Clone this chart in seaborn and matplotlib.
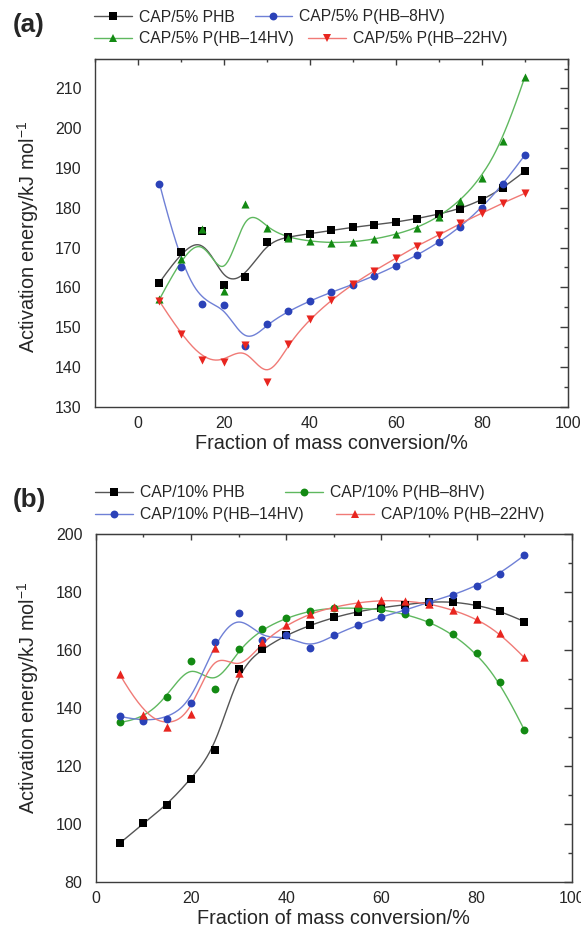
import numpy as np
import pandas as pd
import seaborn as sns
import matplotlib.pyplot as plt
from matplotlib.lines import Line2D
from matplotlib.ticker import MultipleLocator

# fraction of mass conversion (%)
conv = [5, 10, 15, 20, 25, 30, 35, 40, 45, 50, 55, 60, 65, 70, 75, 80, 85, 90]

# (a) blends with 5 % polyester, activation energy kJ/mol
a_phb = [161.2, 168.8, 174.1, 160.7, 162.7, 171.3, 172.7, 173.5, 174.3, 175.1,
         175.7, 176.4, 177.3, 178.4, 179.8, 181.9, 184.9, 189.2]
a_8hv = [186.1, 165.2, 155.8, 155.6, 145.3, 150.7, 154.0, 156.6, 158.8, 160.7,
         162.9, 165.4, 168.1, 171.3, 175.2, 180.0, 185.9, 193.2]
a_14hv = [157.0, 167.1, 174.6, 159.2, 181.0, 174.8, 172.5, 171.6, 171.2, 171.4,
          172.1, 173.3, 175.0, 177.7, 181.8, 187.6, 196.9, 212.8]
a_22hv = [156.5, 148.2, 141.7, 141.3, 145.5, 136.1, 145.8, 152.0, 156.8, 160.8,
          164.2, 167.3, 170.5, 173.1, 176.1, 178.6, 181.3, 183.6]

# (b) blends with 10 % polyester
b_phb = [93.2, 100.1, 106.4, 115.6, 125.3, 153.4, 160.3, 165.1, 168.5, 171.2,
         173.2, 174.6, 175.6, 176.6, 176.6, 175.5, 173.5, 169.8]
b_8hv = [135.0, 136.0, 143.6, 156.3, 146.5, 160.3, 167.2, 171.0, 173.5, 174.5,
         174.4, 174.0, 172.3, 169.8, 165.4, 158.9, 149.0, 132.5]
b_14hv = [137.1, 135.3, 136.2, 141.7, 162.6, 172.9, 163.5, 165.1, 160.5, 165.1,
          168.5, 171.4, 173.7, 176.5, 178.9, 182.1, 186.3, 192.6]
b_22hv = [151.7, 137.6, 133.3, 137.9, 160.6, 152.2, 162.8, 168.5, 172.5, 174.8,
          176.3, 177.1, 176.9, 176.0, 173.8, 170.8, 165.8, 157.4]

labels_a = ["CAP/5% PHB", "CAP/5% P(HB\u20138HV)", "CAP/5% P(HB\u201314HV)", "CAP/5% P(HB\u201322HV)"]
labels_b = ["CAP/10% PHB", "CAP/10% P(HB\u20138HV)", "CAP/10% P(HB\u201314HV)", "CAP/10% P(HB\u201322HV)"]

# (marker colour, line colour)
BLACK = ("#000000", "#555555")
BLUE = ("#2b42b8", "#6f80d6")
GREEN = ("#138a13", "#5fb85f")
RED = ("#e8251f", "#f07a76")

style_a = [(BLACK, "s", 29), (BLUE, "o", 32), (GREEN, "^", 34), (RED, "v", 34)]
style_b = [(BLACK, "s", 30), (GREEN, "o", 32), (BLUE, "o", 32), (RED, "^", 36)]


def bspline(px, py, num=400):
    # clamped cubic B-spline with the data points as control points
    P = np.column_stack([px, py]).astype(float)
    n, k = len(P), 3
    knots = np.concatenate([[0] * k, np.arange(n - k + 1), [n - k] * k]).astype(float)
    t = np.linspace(0, n - k - 1e-9, num)
    N = np.zeros((num, len(knots) - 1))
    for i in range(len(knots) - 1):
        N[:, i] = (knots[i] <= t) & (t < knots[i + 1])
    for p in range(1, k + 1):
        Nn = np.zeros((num, len(knots) - 1 - p))
        for i in range(len(knots) - 1 - p):
            d1 = knots[i + p] - knots[i]
            d2 = knots[i + p + 1] - knots[i + 1]
            a = (t - knots[i]) / d1 * N[:, i] if d1 > 0 else 0
            b = (knots[i + p + 1] - t) / d2 * N[:, i + 1] if d2 > 0 else 0
            Nn[:, i] = a + b
        N = Nn
    c = N @ P
    return c[:, 0], c[:, 1]


sns.set_style("white")
plt.rcParams["font.family"] = ["Liberation Sans", "DejaVu Sans"]
plt.rcParams["mathtext.fontset"] = "custom"
plt.rcParams["mathtext.rm"] = "Liberation Sans"
plt.rcParams["mathtext.it"] = "Liberation Sans:italic"

W, H = 581, 931
fig = plt.figure(figsize=(W / 100, H / 100), dpi=100)
SPINE = "#3c3c3c"


def fpos(l, t, r, b):
    return [l / W, 1 - b / H, (r - l) / W, (b - t) / H]


def draw_panel(ax, series, labels, styles, xlim, ylim, xmaj, ymaj, ymin_):
    for ys, lab, ((mc, lc), mk, sz) in zip(series, labels, styles):
        sx, sy = bspline(conv, ys)
        sns.lineplot(x=sx, y=sy, ax=ax, color=lc, lw=1.0, sort=False, estimator=None, zorder=2)
    for ys, lab, ((mc, lc), mk, sz) in zip(series, labels, styles):
        sns.scatterplot(x=conv, y=ys, ax=ax, color=mc, marker=mk, s=sz, linewidth=0, zorder=3)
    ax.set_xlim(*xlim)
    ax.set_ylim(*ylim)
    ax.xaxis.set_major_locator(MultipleLocator(xmaj))
    ax.xaxis.set_minor_locator(MultipleLocator(xmaj / 2))
    ax.yaxis.set_major_locator(MultipleLocator(ymaj))
    ax.yaxis.set_minor_locator(MultipleLocator(ymin_))
    for sp in ax.spines.values():
        sp.set_color(SPINE)
        sp.set_linewidth(1.0)
    ax.tick_params(axis="x", which="major", direction="out", length=4, width=1, color=SPINE,
                   labelsize=11.5, pad=3)
    ax.tick_params(axis="x", which="minor", direction="out", length=2.5, width=1, color=SPINE)
    ax.tick_params(axis="y", which="major", direction="out", length=5.5, width=1, color=SPINE,
                   labelsize=11.5, pad=4)
    ax.tick_params(axis="y", which="minor", direction="out", length=3, width=1, color=SPINE)
    top = ax.secondary_xaxis("top")
    top.xaxis.set_major_locator(MultipleLocator(xmaj))
    top.xaxis.set_minor_locator(MultipleLocator(xmaj / 2))
    top.tick_params(which="major", direction="in", length=4.5, width=1, color=SPINE, labeltop=False)
    top.tick_params(which="minor", direction="in", length=2.5, width=1, color=SPINE)
    top.spines["top"].set_color(SPINE)
    right = ax.secondary_yaxis("right")
    right.yaxis.set_major_locator(MultipleLocator(ymaj))
    right.yaxis.set_minor_locator(MultipleLocator(ymin_))
    right.tick_params(which="major", direction="in", length=5.5, width=1, color=SPINE, labelright=False)
    right.tick_params(which="minor", direction="in", length=3, width=1, color=SPINE)
    right.spines["right"].set_color(SPINE)
    ax.set_xlabel("Fraction of mass conversion/%", fontsize=14.3, labelpad=2)
    ax.set_ylabel("Activation energy/kJ mol$^{-1}$", fontsize=14.3)
    ax.grid(False)


def handle(style):
    (mc, lc), mk, sz = style
    return Line2D([], [], color=lc, lw=1.0, marker=mk, markersize=np.sqrt(sz),
                  markerfacecolor=mc, markeredgecolor=mc, markeredgewidth=0)


def legend_row(items, styles, x, y, colsp):
    leg = fig.legend([handle(s) for s in styles], items, loc="center left",
                     bbox_to_anchor=(x / W, 1 - y / H), ncol=2, frameon=False,
                     fontsize=11.3, handlelength=2.4, handletextpad=0.45,
                     columnspacing=colsp, borderpad=0, borderaxespad=0, numpoints=1)
    return leg


# panel (a)
ax_a = fig.add_axes(fpos(95, 59, 567.7, 406.7))
draw_panel(ax_a, [a_phb, a_8hv, a_14hv, a_22hv], labels_a, style_a,
           (-10, 100), (130, 217.4), 20, 10, 5)
ax_a.yaxis.set_label_coords(-0.115, 0.49)

# panel (b)
ax_b = fig.add_axes(fpos(95.7, 534, 571.7, 881.7))
draw_panel(ax_b, [b_phb, b_8hv, b_14hv, b_22hv], labels_b, style_b,
           (0, 100), (80, 200), 20, 20, 10)
ax_b.yaxis.set_label_coords(-0.115, 0.53)

legend_row([labels_a[0], labels_a[1]], [style_a[0], style_a[1]], 94, 17, 1.27)
legend_row([labels_a[2], labels_a[3]], [style_a[2], style_a[3]], 94, 39, 0.95)
legend_row([labels_b[0], labels_b[1]], [style_b[0], style_b[1]], 95, 493, 2.6)
legend_row([labels_b[2], labels_b[3]], [style_b[2], style_b[3]], 95, 515, 2.1)

fig.text(13 / W, 1 - 25 / H, "(a)", fontsize=18.7, fontweight="bold", va="center", ha="left")
fig.text(13 / W, 1 - 500 / H, "(b)", fontsize=18.7, fontweight="bold", va="center", ha="left")

fig.savefig("out.png", dpi=100)
